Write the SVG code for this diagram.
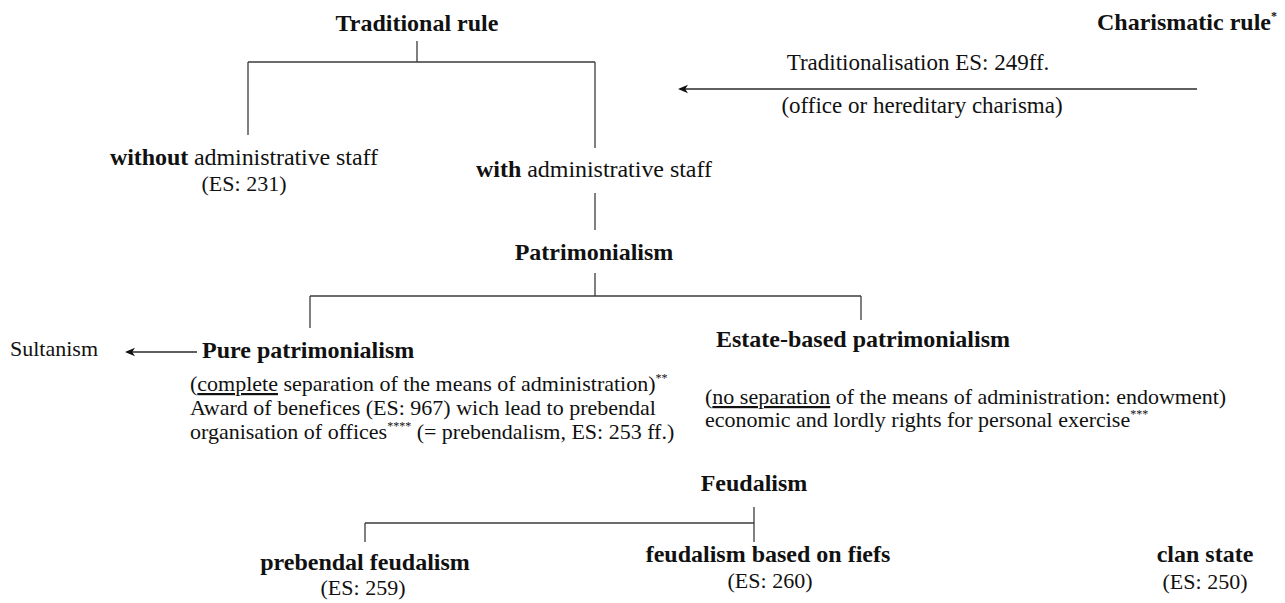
<svg xmlns="http://www.w3.org/2000/svg" width="1285" height="603" viewBox="0 0 1285 603" font-family="Liberation Serif, serif">
<style>
text { font-size: 22px; fill: #111; }
.b { font-weight: bold; font-size: 24px; }
.bi { font-weight: bold; }
.m { font-size: 24px; }
.l { font-size: 23px; }
.c { text-anchor: middle; }
.sup { font-size: 12px; }
.u { text-decoration: underline; }
.ln { fill: none; stroke: #3c3c3c; stroke-width: 1.3; }
.ar { fill: none; stroke: #2a2a2a; stroke-width: 1.5; marker-end: url(#ah); }
</style>
<defs>
<marker id="ah" viewBox="0 0 10 10" refX="8" refY="5" markerWidth="10" markerHeight="10" markerUnits="userSpaceOnUse" orient="auto">
<path d="M0,0.8 L10,5 L0,9.2 L2.8,5 Z" fill="#111"/>
</marker>
</defs>
<rect width="1285" height="603" fill="#fff"/>
<g id="connectors">
<path class="ln" d="M417,41 V62 M248,62 H595 M248,62 V135 M595,62 V148"/>
<line class="ar" x1="1197" y1="89" x2="680" y2="89"/>
<path class="ln" d="M595,193 V230"/>
<path class="ln" d="M595,273 V296 M310,296 H861 M310,296 V328 M861,296 V320"/>
<line class="ar" x1="197" y1="352" x2="127" y2="352"/>
<path class="ln" d="M754,507 V542 M365,523 H754 M365,523 V542"/>
</g>
<g id="traditional-rule"><text class="b c" x="417" y="31">Traditional rule</text></g>
<g id="charismatic-rule"><text class="b" x="1097" y="30">Charismatic rule<tspan class="sup" dy="-10">*</tspan></text></g>
<g id="traditionalisation-label"><text class="l c" x="918" y="70">Traditionalisation ES: 249ff.</text>
<text class="l c" x="922" y="113">(office or hereditary charisma)</text></g>
<g id="without-staff"><text class="m" x="110" y="165" textLength="268" lengthAdjust="spacing"><tspan class="bi">without</tspan> administrative staff</text>
<text class="c" x="244" y="191">(ES: 231)</text></g>
<g id="with-staff"><text class="m" x="476" y="177" textLength="236" lengthAdjust="spacing"><tspan class="bi">with</tspan> administrative staff</text></g>
<g id="patrimonialism"><text class="b c" x="594" y="260">Patrimonialism</text></g>
<g id="sultanism"><text x="10" y="356">Sultanism</text></g>
<g id="pure-patrimonialism"><text class="b" x="202" y="358">Pure patrimonialism</text>
<text x="190" y="391">(<tspan class="u">complete</tspan> separation of the means of administration)<tspan class="sup" dy="-9">**</tspan></text>
<text x="190" y="415">Award of benefices (ES: 967) wich lead to prebendal</text>
<text x="190" y="439">organisation of offices<tspan class="sup" dy="-9">****</tspan><tspan dy="9"> (= prebendalism, ES: 253 ff.)</tspan></text></g>
<g id="estate-based-patrimonialism"><text class="b" x="716" y="347">Estate-based patrimonialism</text>
<text x="705" y="404">(<tspan class="u">no separation</tspan> of the means of administration: endowment)</text>
<text x="705" y="427">economic and lordly rights for personal exercise<tspan class="sup" dy="-9">***</tspan></text></g>
<g id="feudalism"><text class="b c" x="754" y="491">Feudalism</text></g>
<g id="prebendal-feudalism"><text class="b c" x="365" y="570">prebendal feudalism</text>
<text class="c" x="363" y="595">(ES: 259)</text></g>
<g id="fief-feudalism"><text class="b c" x="768" y="562">feudalism based on fiefs</text>
<text class="c" x="770" y="588">(ES: 260)</text></g>
<g id="clan-state"><text class="b c" x="1205" y="562">clan state</text>
<text class="c" x="1205" y="589">(ES: 250)</text></g>
</svg>
